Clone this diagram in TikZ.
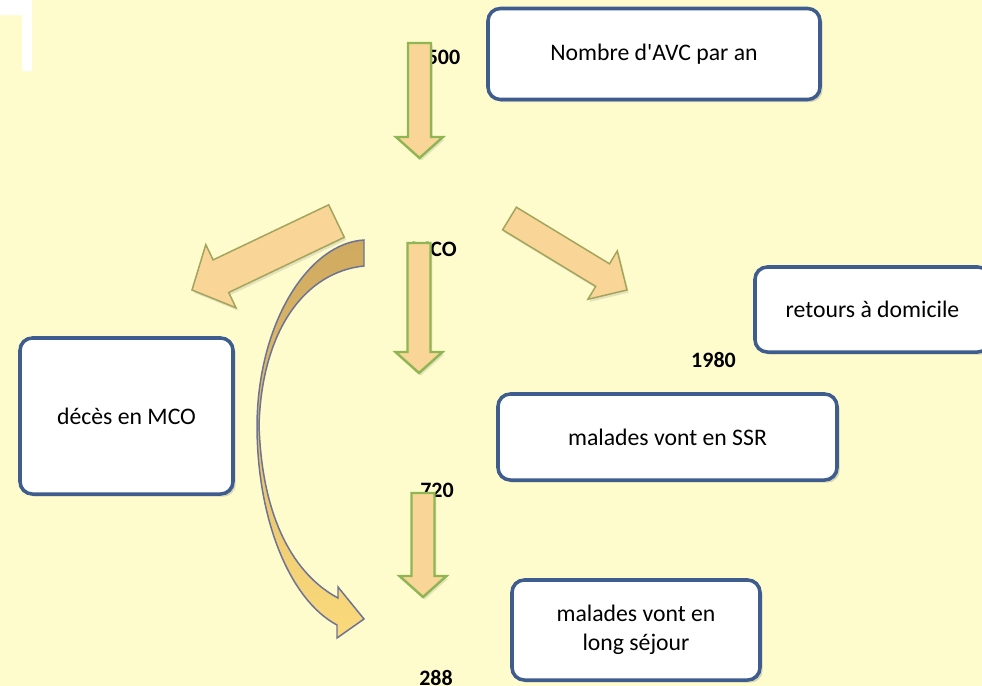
\documentclass[tikz,border=0pt]{standalone}
\usepackage{fontspec}
\setmainfont{Carlito}[Ligatures=TeXOff]
\usetikzlibrary{calc,shadows}

\definecolor{fond}{HTML}{FEFCCD}
\definecolor{bordbleu}{HTML}{3E5C8E}
\definecolor{peche}{HTML}{F9D597}
\definecolor{vertfleche}{HTML}{8FB653}
\definecolor{olive}{HTML}{A3A55C}
\definecolor{courbehaut}{HTML}{CFA95F}
\definecolor{courbebas}{HTML}{FBDA7C}
\definecolor{courbebord}{HTML}{6D7393}

\begin{document}
\begin{tikzpicture}[x=0.2mm, y=-0.2mm]
%styles des noeuds
\tikzstyle{boite}=[rectangle, rounded corners=7pt, draw=bordbleu, line width=2pt, fill=white, text=black, align=center, font=\fontsize{13.5}{16.5}\selectfont, drop shadow={opacity=0.3, shadow xshift=1.5pt, shadow yshift=-1.5pt}]
\tikzstyle{chiffre}=[rectangle, text=black, inner sep=0pt, font=\bfseries\fontsize{12.5}{14}\selectfont]
\tikzstyle{fleche}=[fill=peche, draw=vertfleche, line width=1.4pt, drop shadow={opacity=0.2, shadow xshift=1pt, shadow yshift=-1.5pt}]
\tikzstyle{flechediag}=[fleche, draw=olive, line width=0.85pt]
\tikzstyle{courbe}=[top color=courbehaut, bottom color=courbebas, draw=courbebord, line width=0.85pt]

\def\flechebas#1#2{%
  \draw[fleche] ($(#1)+(-11.5,0)$) -- ($(#1)+(11.5,0)$) -- ($(#2)+(11.5,-21)$) -- ($(#2)+(23.5,-21)$)
    -- (#2) -- ($(#2)+(-23.5,-21)$) -- ($(#2)+(-11.5,-21)$) -- cycle;}

%fond
\clip (0,0) rectangle (982,686);
\fill[fond] (0,0) rectangle (982,686);
\fill[white] (0,0) -- (32,0) -- (32,71) -- (22,71) -- (22,15) -- (0,15) -- cycle;

%boites
\node[boite, minimum width=6.64cm, minimum height=1.82cm] (avc) at (654,54) {Nombre d'AVC par an};
\node[boite, minimum width=4.7cm, minimum height=1.7cm] (domicile) at (872.5,309.5) {retours à domicile};
\node[boite, minimum width=4.26cm, minimum height=3.12cm] (deces) at (126.5,416) {décès en MCO};
\node[boite, minimum width=6.78cm, minimum height=1.72cm] (ssr) at (667.5,437) {malades vont en SSR};
\node[boite, minimum width=4.96cm, minimum height=2cm] (sejour) at (636,630) {malades vont en\\long séjour};

%chiffres
\node[chiffre] (n500) at (443.5,57) {500};
\node[chiffre] (mco) at (434,249) {MCO};
\node[chiffre] (n1980) at (713.5,360) {1980};
\node[chiffre] (n720) at (437,490) {720};
\node[chiffre] (n288) at (436,678) {288};

%fleches verticales
\coordinate (q1) at (419.5,43);
\coordinate (p1) at (419.5,158);
\coordinate (q2) at (419,243);
\coordinate (p2) at (419,373);
\coordinate (q3) at (423,493);
\coordinate (p3) at (423,597);
\flechebas{q1}{p1}
\flechebas{q2}{p2}
\flechebas{q3}{p3}

%fleches obliques
\draw[flechediag] (328.7,204.8) -- (344.3,237.3) -- (228.7,292.5) -- (236,307.8) -- (192,290)
  -- (205.8,244.6) -- (213.1,259.9) -- cycle;
\draw[flechediag] (516.4,207.2) -- (609.5,263.8) -- (617.3,250.9) -- (627,290) -- (587.9,299.3)
  -- (595.7,286.4) -- (502.6,229.8) -- cycle;

%fleche courbe
\draw[courbe] (364,240) .. controls (310,243) and (258,320) .. (257,425)
  .. controls (257,520) and (290,600) .. (337,625) -- (337,638) -- (364,619) -- (338,587) -- (338,598)
  .. controls (295,575) and (262,520) .. (259,425)
  .. controls (262,330) and (305,272) .. (364,266) -- cycle;
\end{tikzpicture}
\end{document}
